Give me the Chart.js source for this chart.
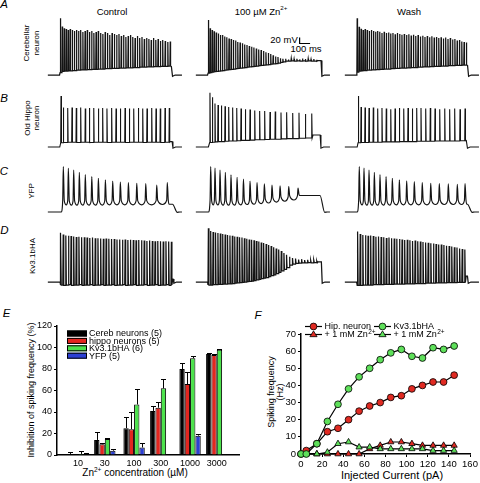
<!DOCTYPE html>
<html><head><meta charset="utf-8">
<script src="https://cdn.jsdelivr.net/npm/chart.js@4.4.0/dist/chart.umd.min.js"></script>
<style>
body{margin:0;background:#fff;width:480px;height:483px;position:relative;overflow:hidden;font-family:"Liberation Sans",Arial,sans-serif;color:#000}
canvas{position:absolute}
.c{position:absolute;transform:translate(-50%,-50%);white-space:nowrap;line-height:1}
.r{position:absolute;transform:translate(-50%,-50%) rotate(-90deg);text-align:center;white-space:nowrap}
.p{font-style:italic;font-size:11.5px}
sup{font-size:0.65em;position:relative;top:-0.2em;vertical-align:top;line-height:1}
</style></head><body>
<div class="c p" style="left:4px;top:4.5px">A</div>
<div class="c p" style="left:4px;top:99px">B</div>
<div class="c p" style="left:4px;top:172px">C</div>
<div class="c p" style="left:4.5px;top:230.5px">D</div>
<div class="c p" style="left:6.5px;top:314px">E</div>
<div class="c p" style="left:258px;top:315.5px">F</div>
<div class="c" style="left:112px;top:11.5px;font-size:9.5px">Control</div>
<div class="c" style="left:261px;top:11.5px;font-size:9.5px">100 µM Zn<sup>2+</sup></div>
<div class="c" style="left:409px;top:11.5px;font-size:9.5px">Wash</div>
<div class="c" style="left:284px;top:39.5px;font-size:9.5px">20 mV</div>
<div class="c" style="left:306px;top:49px;font-size:9.5px">100 ms</div>
<div class="r" style="left:31px;top:42.5px;font-size:8px;line-height:9.5px">Cerebellar<br>neuron</div>
<div class="r" style="left:32px;top:118px;font-size:8px;line-height:9px">Old Hippo<br>neuron</div>
<div class="r" style="left:31px;top:191px;font-size:8px;line-height:9px">YFP</div>
<div class="r" style="left:32px;top:256px;font-size:8px;line-height:9px">Kv3.1bHA</div>
<div class="r" style="left:31px;top:390px;font-size:9px;line-height:9px">Inhibition of spiking frequency (%)</div>
<div class="c" style="left:135px;top:473px;font-size:10px">Zn<sup>2+</sup> concentration (µM)</div>
<div class="r" style="left:275px;top:392px;font-size:9px;line-height:8.5px">Spiking frequency<br>(Hz)</div>
<div class="c" style="left:392px;top:475px;font-size:11px">Injected Current (pA)</div>
<script>
// ---------------- Panels A-D: membrane voltage traces (time in ms, voltage in mV) ----------------
const BASE_MV = -70;
const scaleBarMs = [1000, 1000, 1100];
const scaleBarMv = [55, 35, 35];

// Row A: cerebellar neuron
const aCtrlT = [128,146,165,184,203,222,242,262,282,302,322,343,364,385,406,427,448,469,490,512,534,556,578,600,622,644,666,688,710,732,754,776,798,820,842,864,886,908,930,952,974,996,1018,1040,1062,1084,1106,1130,1155,1178];
const aCtrlPeak = [119,92,86,83,80,83,80,77,80,77,80,73,77,80,73,77,70,73,77,70,67,73,70,63,70,67,63,67,60,63,57,60,63,57,53,60,53,57,50,53,50,47,53,47,50,43,47,43,40,42];
const aCtrlTrough = [-62,-58,-57,-57,-56,-56,-55,-55,-54,-54,-53,-53,-53,-52,-52,-51,-51,-51,-50,-50,-50,-49,-49,-49,-48,-48,-48,-47,-47,-47,-46,-46,-46,-45,-45,-45,-44,-44,-44,-43,-43,-43,-42,-42,-42,-41,-41,-41,-40,-40];
const aCtrlStep = [120, 1192, -42];

const aZnT = [128,145,164,183,203,223,243,263,283,304,325,346,367,388,409,431,453,475,497,519,541,563,586,609,632,655,678,701,724,747,770,793,816,840,866,893,920,947,974,1001,1028,1055,1082,1109,1136,1163];
const aZnPeak = [113,86,80,76,72,68,63,63,58,56,52,50,47,45,40,38,36,32,30,27,24,22,18,15,13,10,6,3,0,-4,-8,-10,-14,-16,-16,-18,-15,-17,-16,-18,-15,-17,-16,-18,-17,-19];
const aZnTrough = [-64,-62,-60,-59,-58,-57,-56,-55,-54,-53,-52,-51,-50,-49,-48,-47,-46,-45,-44,-43,-42,-41,-40,-39,-38,-37,-36,-35,-34,-33,-32,-30,-28,-26,-24,-24,-23,-24,-23,-24,-23,-24,-23,-24,-24,-24];
const aZnStep = [120, 1205, -22];

const aWashT = [126,145,164,183,202,222,242,262,282,302,322,342,363,384,405,426,447,468,489,510,532,554,576,598,620,642,664,686,708,730,752,774,796,818,840,862,884,906,928,950,972,994,1016,1038,1060,1082,1104,1126,1148,1170];
const aWashPeak = [119,91,84,80,83,80,77,80,77,74,77,74,70,74,70,72,68,70,66,70,67,64,67,63,66,62,64,60,63,58,61,57,60,56,59,55,57,53,56,52,55,50,53,48,50,45,47,42,40,38];
const aWashTrough = [-60,-57,-56,-55,-55,-54,-54,-53,-53,-52,-52,-51,-51,-50,-50,-50,-49,-49,-48,-48,-47,-47,-47,-46,-46,-45,-45,-45,-44,-44,-43,-43,-43,-42,-42,-41,-41,-41,-40,-40,-40,-39,-39,-39,-38,-38,-38,-37,-37,-37];
const aWashStep = [120, 1183, -38];

// Row B: old hippocampal neuron
const bCtrlT = [134,156,198,239,280,322,366,405,447,491,532,573,618,660,701,746,787,829,873,915,956,1001,1042,1083,1128,1169];
const bCtrlPeak = [100,62,60,62,60,62,58,60,60,58,60,58,60,58,58,60,58,58,60,58,58,60,58,58,60,60];
const bCtrlTrough = [-56,-55,-54,-54,-55,-54,-54,-55,-54,-54,-54,-55,-54,-54,-54,-55,-54,-54,-54,-55,-54,-54,-54,-55,-54,-54];
const bCtrlStep = [122, 1196, -52];

const bZnT = [143,166,191,220,252,287,322,360,399,440,481,526,571,618,666,717,767,822,876,934,994,1055,1116];
const bZnPeak = [111,96,75,70,68,66,63,62,60,58,56,55,52,50,50,47,48,45,46,43,44,40,42];
const bZnTrough = [-55,-54,-53,-52,-52,-51,-50,-50,-49,-48,-48,-47,-46,-46,-45,-44,-44,-43,-42,-42,-41,-40,-40];
const bZnStep = [128, 1196, -30];

const bWashT = [137,163,201,239,280,322,363,404,447,488,529,571,612,653,695,736,781,825,870,915,963,1010,1058,1109,1157];
const bWashPeak = [100,63,62,60,62,58,60,58,56,58,60,58,60,58,60,60,58,60,58,56,58,56,58,56,58];
const bWashTrough = [-56,-55,-55,-54,-54,-54,-53,-53,-53,-53,-52,-52,-52,-52,-51,-51,-51,-51,-50,-50,-50,-50,-50,-49,-49];
const bWashStep = [126, 1172, -48];

// Row C: YFP-transfected cell
const cCtrlT = [156,204,255,309,366,428,491,558,628,701,778,858,944,1049,1150];
const cCtrlPeak = [81,76,70,62,55,48,42,37,33,30,28,26,25,20,28];
const cCtrlTrough = [-46,-47,-47,-47,-47,-47,-47,-46,-46,-46,-46,-46,-46,-45,-44];
const cCtrlStep = [135, 1200, -44];

const cZnT = [150,191,239,290,344,402,463,526,593,663,736,813,896,985];
const cZnPeak = [81,76,70,62,54,46,40,33,28,24,20,17,15,10];
const cZnTrough = [-46,-46,-47,-47,-47,-46,-45,-44,-42,-40,-37,-34,-30,-25];
const cZnStep = [128, 1195, -15];

const cWashT = [146,191,239,290,344,402,462,529,599,672,748,829,911,997,1083,1157];
const cWashPeak = [81,76,70,62,55,48,42,37,34,31,28,26,25,24,22,25];
const cWashTrough = [-46,-47,-47,-47,-47,-47,-46,-46,-46,-46,-46,-45,-45,-45,-45,-44];
const cWashStep = [125, 1180, -44];

// Row D: Kv3.1bHA-transfected cell
const dCtrlT = [131,155,180,205,230,255,280,305,331,357,383,409,435,461,487,513,539,565,591,617,643,669,695,721,747,773,799,825,851,877,903,929,955,981,1007,1033,1059,1085,1111,1137,1163,1189];
const dCtrlPeak = [94,88,85,84,83,82,80,81,79,79,78,77,78,76,76,75,74,75,74,73,73,72,72,71,72,70,71,70,69,70,69,68,67,68,67,66,67,66,65,66,65,64];
const dCtrlTrough = [-80,-81,-80,-79,-81,-80,-80,-79,-81,-80,-80,-79,-81,-80,-80,-79,-81,-80,-80,-79,-81,-80,-80,-79,-81,-80,-80,-79,-81,-80,-80,-79,-81,-80,-80,-79,-81,-80,-80,-79,-81,-80];
const dCtrlStep = [125, 1205, -60];

const dZnT = [128,150,173,196,219,242,265,288,311,334,357,380,403,426,449,472,495,518,541,564,587,610,633,656,680,704,728,752,776,800,825,850,875,903,932,961,990,1019,1048,1077,1106,1135,1164];
const dZnPeak = [109,100,97,95,93,92,90,88,87,85,84,82,81,79,78,76,74,72,71,69,67,65,62,60,57,53,50,46,42,38,33,27,21,14,10,8,5,6,3,4,2,3,0];
const dZnTrough = [-80,-80,-79,-79,-78,-78,-77,-77,-76,-76,-75,-74,-73,-72,-71,-70,-69,-68,-67,-65,-63,-61,-59,-57,-55,-52,-49,-46,-42,-38,-33,-28,-22,-14,-10,-8,-7,-6,-6,-5,-6,-5,-6];
const dZnStep = [120, 1208, -3];

const dWashT = [130,155,180,205,230,255,280,305,330,355,380,405,430,455,480,505,530,555,580,605,630,655,680,705,730,755,780,805,830,855,880,905,930,955,980,1005,1030,1055,1080,1105,1130,1155];
const dWashPeak = [98,90,87,86,84,85,83,81,82,80,79,77,78,76,75,74,73,72,70,71,69,67,68,66,65,63,62,61,59,58,57,55,55,53,51,50,48,46,45,42,40,38];
const dWashTrough = [-81,-81,-80,-80,-80,-80,-79,-79,-79,-79,-78,-78,-78,-78,-77,-77,-77,-77,-76,-76,-76,-76,-75,-75,-75,-75,-74,-74,-74,-74,-73,-73,-73,-73,-72,-72,-72,-72,-71,-71,-71,-71];
const dWashStep = [120, 1180, -50];

// ---------------- Panel E ----------------
const znConc = [10, 30, 100, 300, 1000, 3000];
const cerebInh = [1, 14, 25, 41, 80, 94];
const cerebErr = [2, 7, 10, 5, 6, 0.8];
const hippoInh = [0, 10, 24, 44, 66, 93];
const hippoErr = [1, 1.5, 16, 5, 11, 0.5];
const kvInh = [1, 15, 47, 62, 90, 98];
const kvErr = [3, 0.5, 14, 9, 2.5, 0.7];
const yfpInh = [0, 4, 7, null, 18, null];
const yfpErr = [2, 1.5, 4, null, 1.5, null];

// ---------------- Panel F ----------------
const currentPA = [0,5,15,25,35,45,55,65,75,85,95,105,115,125,135,145];
const hipFreq = [0,2,6,13,15,20,25,28,30,33,34,38,40,42,42,46];
const kvFreq = [0,0,6,19,29,38,45,50,55,59,61,57,56,62,61,63];
const hipZnFreq = [0,0,0,0,0,0,0,3,5,7,7,6,5,5,5,5];
const kvZnFreq = [0,0,0,1,6,7,4,4,3,3,3,3,3,2,2,2];

// ================= rendering =================
Chart.defaults.font.family = '"Liberation Sans", Arial, sans-serif';
Chart.defaults.color = '#000';

const ROW_TOP = [15, 87, 152, 222];
const COL_LEFT = [47, 195, 344];
const ROW_STYLE = [
  {wr: 3, wf: 3, fall: 8, mono: false, lw: 1.25},
  {wr: 3, wf: 4, fall: 8, mono: false, lw: 1.1},
  {wr: 6, wf: 9, fall: 45, mono: true, u: 14, lw: 1.15},
  {wr: 4, wf: 5, fall: 8, mono: false, lw: 1.25}
];
const TRACES = [
  [0,0,aCtrlT,aCtrlPeak,aCtrlTrough,aCtrlStep],[0,1,aZnT,aZnPeak,aZnTrough,aZnStep],[0,2,aWashT,aWashPeak,aWashTrough,aWashStep],
  [1,0,bCtrlT,bCtrlPeak,bCtrlTrough,bCtrlStep],[1,1,bZnT,bZnPeak,bZnTrough,bZnStep],[1,2,bWashT,bWashPeak,bWashTrough,bWashStep],
  [2,0,cCtrlT,cCtrlPeak,cCtrlTrough,cCtrlStep],[2,1,cZnT,cZnPeak,cZnTrough,cZnStep],[2,2,cWashT,cWashPeak,cWashTrough,cWashStep],
  [3,0,dCtrlT,dCtrlPeak,dCtrlTrough,dCtrlStep],[3,1,dZnT,dZnPeak,dZnTrough,dZnStep],[3,2,dWashT,dWashPeak,dWashTrough,dWashStep]
];

function tracePoints(T, P, R, S, st) {
  const on = S[0], off = S[1], plateau = S[2];
  const pts = [{x: 8, y: BASE_MV}, {x: on, y: BASE_MV}];
  const u = st.u || 0;
  for (let i = 0; i < T.length; i++) {
    pts.push({x: T[i] - st.wr, y: (i ? R[i - 1] : R[0]) + u});
    pts.push({x: T[i], y: P[i]});
    pts.push({x: T[i] + st.wf, y: R[i] + u});
    if (st.mono && i < T.length - 1) {
      // rounded trough between two broad spikes, at the read trough value
      pts.push({x: (T[i] + st.wf + T[i + 1] - st.wr) / 2 + 3, y: R[i]});
    }
  }
  const last = T[T.length - 1] + st.wf;
  pts.push({x: Math.min(last + 8, off - 2), y: plateau});
  pts.push({x: off, y: plateau});
  pts.push({x: off + st.fall, y: BASE_MV - (st.mono ? 1 : 4)});
  pts.push({x: off + st.fall + 25, y: BASE_MV});
  pts.push({x: 1290, y: BASE_MV});
  return pts;
}

function makeCanvas(left, top, w, h) {
  const c = document.createElement('canvas');
  c.width = w; c.height = h;
  c.style.left = left + 'px'; c.style.top = top + 'px';
  c.style.width = w + 'px'; c.style.height = h + 'px';
  document.body.appendChild(c);
  return c;
}

TRACES.forEach(([row, col, T, P, R, S]) => {
  const st = ROW_STYLE[row];
  const datasets = [{
    data: tracePoints(T, P, R, S, st), borderColor: '#141414', borderWidth: st.lw,
    pointRadius: 0, tension: st.mono ? 0.4 : 0, cubicInterpolationMode: st.mono ? 'monotone' : 'default'
  }];
  if (row === 0 && col === 1) {
    datasets.push({data: scaleBarMs.map((x, i) => ({x, y: scaleBarMv[i]})), borderColor: '#000', borderWidth: 1.2, pointRadius: 0, tension: 0});
  }
  new Chart(makeCanvas(COL_LEFT[col], ROW_TOP[row], 136, 66), {
    type: 'line',
    data: {datasets},
    options: {
      responsive: false, animation: false, devicePixelRatio: 1, events: [],
      layout: {padding: 0},
      plugins: {legend: {display: false}, tooltip: {enabled: false}},
      scales: {
        x: {type: 'linear', min: 0, max: 1300, display: false},
        y: {type: 'linear', min: -90, max: 130, display: false}
      }
    }
  });
});

// ---- Panel E: grouped bars on a log concentration axis, with error bars ----
const errorBars = {
  id: 'errorBars',
  afterDatasetsDraw(chart) {
    const ctx = chart.ctx, ys = chart.scales.y;
    ctx.save();
    ctx.strokeStyle = '#000'; ctx.lineWidth = 1;
    chart.data.datasets.forEach((ds, di) => {
      chart.getDatasetMeta(di).data.forEach((bar, i) => {
        const v = ds.data[i].y, e = ds.errors[i];
        if (v == null || e == null) return;
        const top = Math.round(ys.getPixelForValue(v + e)) + 0.5;
        const x = Math.round(bar.x) + 0.5;
        ctx.beginPath();
        ctx.moveTo(x, bar.y); ctx.lineTo(x, top);
        ctx.moveTo(x - 2.5, top); ctx.lineTo(x + 2.5, top);
        ctx.stroke();
      });
    });
    ctx.restore();
  }
};
const eLegend = {
  id: 'eLegend',
  afterDraw(chart) {
    const ctx = chart.ctx;
    ctx.save();
    ctx.font = '9px "Liberation Sans", Arial, sans-serif';
    ctx.textBaseline = 'middle';
    chart.data.datasets.forEach((ds, i) => {
      const y = 33.5 + i * 7.4;
      ctx.fillStyle = ds.backgroundColor;
      ctx.fillRect(67, y - 3, 20, 6);
      ctx.strokeStyle = '#000'; ctx.lineWidth = 1;
      ctx.strokeRect(67.5, y - 2.5, 19, 5);
      ctx.fillStyle = '#000';
      ctx.fillText(ds.label, 89, y + 0.5);
    });
    ctx.restore();
  }
};
function barSet(label, vals, errs, color) {
  return {label, data: znConc.map((x, i) => ({x, y: vals[i]})), errors: errs,
    backgroundColor: color, borderColor: '#000', borderWidth: 1,
    categoryPercentage: 0.8, barPercentage: 1};
}
const axisE = {color: '#000', width: 1.5};
new Chart(makeCanvas(0, 300, 240, 183), {
  type: 'bar',
  data: {datasets: [
    barSet('Cereb neurons (5)', cerebInh, cerebErr, '#000000'),
    barSet('hippo neurons (5)', hippoInh, hippoErr, '#e3261f'),
    barSet('Kv3.1bHA (6)', kvInh, kvErr, '#4de24d'),
    barSet('YFP (5)', yfpInh, yfpErr, '#2b3fd4')
  ]},
  options: {
    responsive: false, animation: false, devicePixelRatio: 1, events: [],
    layout: {padding: {top: 26, right: 0, left: 0, bottom: 0}},
    plugins: {legend: {display: false}, tooltip: {enabled: false}},
    scales: {
      x: {type: 'logarithmic', min: 4.2, max: 7800,
        afterBuildTicks: s => { s.ticks = znConc.map(v => ({value: v})); },
        afterFit: s => { s.height = 28; },
        ticks: {callback: v => String(v), autoSkip: false, maxRotation: 0, font: {size: 9}, color: '#000', padding: 3},
        grid: {display: false, drawTicks: false}, border: axisE},
      y: {type: 'linear', min: 0, max: 120,
        afterFit: s => { s.width = 57; },
        ticks: {stepSize: 20, font: {size: 9}, color: '#000', padding: 2},
        grid: {drawOnChartArea: false, drawTicks: true, tickLength: 3, color: '#000'}, border: axisE}
    }
  },
  plugins: [errorBars, eLegend]
});

// ---- Panel F: frequency vs injected current ----
function drawMarker(ctx, style, x, y, r, fill) {
  ctx.beginPath();
  if (style === 'circle') ctx.arc(x, y, r, 0, Math.PI * 2);
  else { const h = r * 1.5; ctx.moveTo(x, y - r); ctx.lineTo(x + h * 0.577 * 1.15, y + r * 0.6); ctx.lineTo(x - h * 0.577 * 1.15, y + r * 0.6); ctx.closePath(); }
  ctx.fillStyle = fill; ctx.fill();
  ctx.lineWidth = 0.8; ctx.strokeStyle = '#000'; ctx.stroke();
}
const fLegend = {
  id: 'fLegend',
  afterDraw(chart) {
    const ctx = chart.ctx;
    const spots = {'hip': [65, 26.5], 'kv': [134, 26.5], 'hipZn': [65, 34.5], 'kvZn': [134, 34.5]};
    ctx.save();
    chart.data.datasets.forEach(ds => {
      const [x0, y] = spots[ds.key];
      ctx.strokeStyle = '#000'; ctx.lineWidth = 1.2;
      ctx.beginPath(); ctx.moveTo(x0, y); ctx.lineTo(x0 + 17, y); ctx.stroke();
      drawMarker(ctx, ds.pointStyle, x0 + 8.5, y, ds.pointRadius, ds.pointBackgroundColor);
      ctx.fillStyle = '#000'; ctx.textBaseline = 'middle';
      ctx.font = '9px "Liberation Sans", Arial, sans-serif';
      const parts = ds.label.split('^');
      ctx.fillText(parts[0], x0 + 19.5, y + 0.5);
      if (parts[1]) {
        const w = ctx.measureText(parts[0]).width;
        ctx.font = '6.5px "Liberation Sans", Arial, sans-serif';
        ctx.fillText(parts[1], x0 + 19.5 + w + 0.5, y - 2.5);
      }
    });
    ctx.restore();
  }
};
function lineSet(key, label, vals, style, fill) {
  return {key, label, data: currentPA.map((x, i) => ({x, y: vals[i]})),
    borderColor: '#000', borderWidth: 1.2, tension: 0, clip: false,
    pointStyle: style, pointRadius: style === 'circle' ? 3.4 : 3.6,
    pointBackgroundColor: fill, pointBorderColor: '#000', pointBorderWidth: 0.8};
}
const tickF = {color: '#000', width: 1.5};
new Chart(makeCanvas(240, 300, 240, 183), {
  type: 'line',
  data: {datasets: [
    lineSet('kv', 'Kv3.1bHA', kvFreq, 'circle', '#5ee05a'),
    lineSet('hip', 'Hip. neuron', hipFreq, 'circle', '#e02a22'),
    lineSet('kvZn', '+ 1 mM Zn^2+', kvZnFreq, 'triangle', '#5ee05a'),
    lineSet('hipZn', '+ 1 mM Zn^2+', hipZnFreq, 'triangle', '#e02a22')
  ]},
  options: {
    responsive: false, animation: false, devicePixelRatio: 1, events: [],
    layout: {padding: {top: 34, right: 10, left: 0, bottom: 0}},
    plugins: {legend: {display: false}, tooltip: {enabled: false}},
    scales: {
      x: {type: 'linear', min: 0, max: 160,
        afterFit: s => { s.height = 29; },
        ticks: {stepSize: 20, font: {size: 9.5}, color: '#000', padding: 2, maxRotation: 0},
        grid: {drawOnChartArea: false, tickLength: 3, color: '#000'}, border: tickF},
      y: {type: 'linear', min: 0, max: 70,
        afterFit: s => { s.width = 61; },
        ticks: {stepSize: 10, font: {size: 9.5}, color: '#000', padding: 2},
        grid: {drawOnChartArea: false, tickLength: 3, color: '#000'}, border: tickF}
    }
  },
  plugins: [fLegend]
});
</script>
</body></html>
